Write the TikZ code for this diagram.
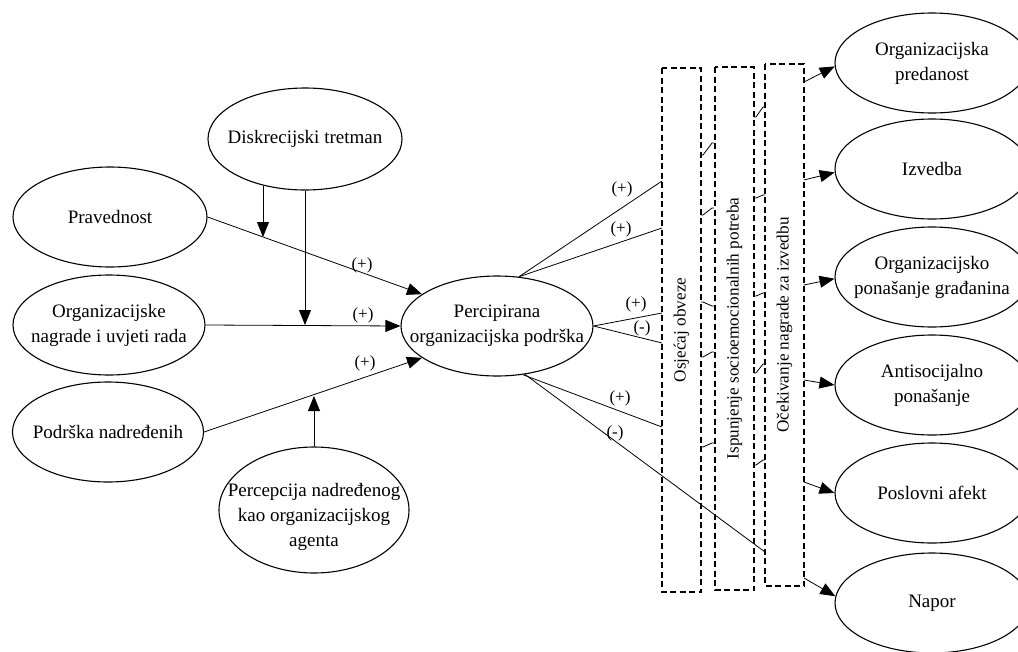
\documentclass[tikz,border=0pt]{standalone}
\usepackage{fontspec}
\setmainfont{Liberation Serif}
\usetikzlibrary{arrows.meta,shapes.geometric}
\begin{document}
\begin{tikzpicture}[x=1pt,y=-1pt,
  ell/.style={draw, ellipse, line width=1.1pt, inner sep=-30pt, align=center,
    font=\fontsize{19}{25}\selectfont},
  lbl/.style={font=\fontsize{17}{19}\selectfont, inner sep=0pt},
  conn/.style={line width=0.8pt},
  arr/.style={line width=0.8pt, -{Triangle[length=15pt,width=12pt]}},
  dbox/.style={draw, dash pattern=on 6pt off 3.5pt, line width=1.1pt, rotate=90,
    inner sep=0pt, minimum height=39pt, font=\fontsize{17.2}{20}\selectfont}
]
\useasboundingbox (0,0) rectangle (1018,651);
\clip (0,0) rectangle (1018,651);
% left nodes
\node[ell, minimum width=194pt, minimum height=100pt] (Pr) at (110,217) {Pravednost};
\node[ell, minimum width=192pt, minimum height=100pt] (Org) at (109,325) {Organizacijske\\nagrade i uvjeti rada};
\node[ell, minimum width=191pt, minimum height=100pt] (Pod) at (108,432) {Podrška nadređenih};
\node[ell, minimum width=194pt, minimum height=102pt] (D) at (305,139) {Diskrecijski tretman};
\node[ell, minimum width=190pt, minimum height=126pt] (Perc) at (314,510) {\rule{0pt}{28pt}Percepcija nadređenog\\kao organizacijskog\\agenta};
\node[ell, minimum width=192pt, minimum height=100pt] (P) at (497,326) {Percipirana\\organizacijska podrška};
% dashed boxes
\node[dbox, minimum width=524pt] (B1) at (681.5,330) {Osjećaj obveze};
\node[dbox, minimum width=523pt] (B2) at (734.5,328.5) {Ispunjenje socioemocionalnih potreba};
\node[dbox, minimum width=522pt] (B3) at (784.5,325) {Očekivanje nagrade za izvedbu};
% right nodes
\node[ell, minimum width=194pt, minimum height=100pt] (E1) at (932,63) {Organizacijska\\predanost};
\node[ell, minimum width=194pt, minimum height=100pt] (E2) at (932,169) {Izvedba};
\node[ell, minimum width=194pt, minimum height=100pt] (E3) at (932,277) {Organizacijsko\\ponašanje građanina};
\node[ell, minimum width=194pt, minimum height=100pt] (E4) at (932,385) {Antisocijalno\\ponašanje};
\node[ell, minimum width=194pt, minimum height=100pt] (E5) at (932,493) {Poslovni afekt};
\node[ell, minimum width=194pt, minimum height=100pt] (E6) at (932,603) {Napor};
% left arrows
\draw[arr] (Pr.east) -- (P.157);
\draw[arr] (Org.east) -- (P.west);
\draw[arr] (Pod.east) -- (P.203);
\coordinate (d1) at (263,237);
\coordinate (m1) at (305,325);
\coordinate (m2) at (314,396);
\draw[arr] (D.-132 -| d1) -- (d1);
\draw[arr] (D.south) -- (m1);
\draw[arr] (Perc.north) -- (m2);
\node[lbl] (l1) at (362,265) {(+)};
\node[lbl] (l2) at (363,315) {(+)};
\node[lbl] (l3) at (365,363) {(+)};
% lines to boxes
\coordinate (e1) at (662,181);
\coordinate (e2) at (662,228);
\coordinate (e3) at (662,313);
\coordinate (e4) at (662,343);
\coordinate (e5) at (662,427);
\coordinate (e6) at (765,552);
\draw[conn] (P.66) -- (e1);
\draw[conn] (P.66) -- (e2);
\draw[conn] (P.east) -- (e3);
\draw[conn] (P.east) -- (e4);
\draw[conn] (P.-62) -- (e5);
\draw[conn] (P.-60) -- (e6);
\node[lbl] (r1) at (622,189) {(+)};
\node[lbl] (r2) at (621,229) {(+)};
\node[lbl] (r3) at (636,304) {(+)};
\node[lbl] (r4) at (642,328) {(-)};
\node[lbl] (r5) at (620,398) {(+)};
\node[lbl] (r6) at (615,433) {(-)};
% box1 -> box2 links
\coordinate (a1) at (701,155); \coordinate (b1) at (714,143);
\coordinate (a2) at (701,215); \coordinate (b2) at (714,208);
\coordinate (a3) at (701,302); \coordinate (b3) at (714,306);
\coordinate (a4) at (701,357); \coordinate (b4) at (714,352);
\coordinate (a5) at (701,447); \coordinate (b5) at (714,443);
\foreach \i in {1,...,5} { \draw[conn] (a\i) -- ++(2,0) -- ([xshift=-2pt]b\i) -- (b\i); }
% box2 -> box3 links
\coordinate (c1) at (754,117); \coordinate (f1) at (765,107);
\coordinate (c2) at (754,198); \coordinate (f2) at (765,195);
\coordinate (c3) at (754,296); \coordinate (f3) at (765,293);
\coordinate (c4) at (754,373); \coordinate (f4) at (765,364);
\coordinate (c5) at (754,465); \coordinate (f5) at (765,460);
\foreach \i in {1,...,5} { \draw[conn] (c\i) -- ++(2,0) -- ([xshift=-2pt]f\i) -- (f\i); }
% box3 -> outcomes
\coordinate (g1) at (804,82);
\coordinate (g2) at (804,180);
\coordinate (g3) at (804,285);
\coordinate (g4) at (804,380);
\coordinate (g5) at (804,482);
\coordinate (g6) at (804,578);
\draw[arr] (g1) -- (E1.182);
\draw[arr] (g2) -- (E2.182);
\draw[arr] (g3) -- (E3.181);
\draw[arr] (g4) -- (E4.180);
\draw[arr] (g5) -- (E5.180);
\draw[arr] (g6) -- (E6.176);
\end{tikzpicture}
\end{document}
